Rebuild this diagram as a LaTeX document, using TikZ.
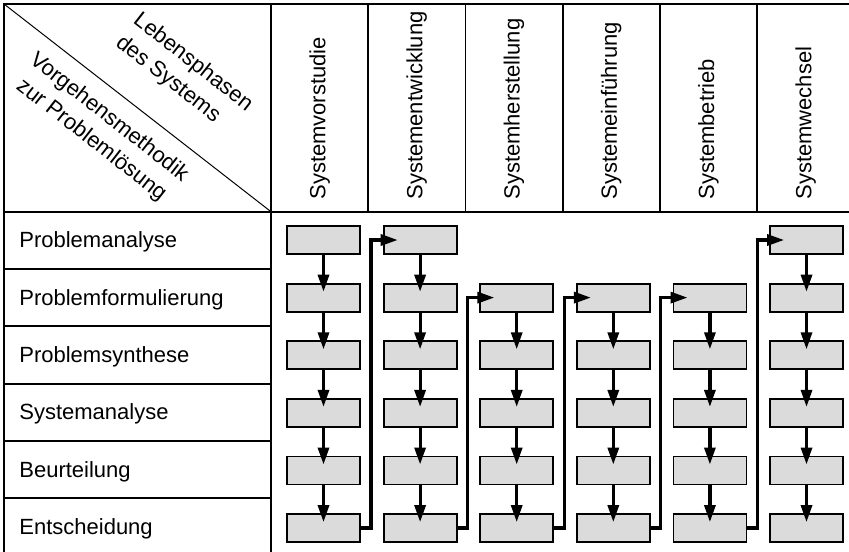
\documentclass[tikz,border=0pt]{standalone}
\usepackage{fontspec}
\setmainfont{Liberation Sans}
\usetikzlibrary{arrows.meta, positioning, calc}

\begin{document}
\begin{tikzpicture}[x=0.5pt, y=-0.5pt, font=\fontsize{11}{14.3}\selectfont,
    grid/.style={line width=0.9pt},
    stepbox/.style={draw, line width=0.9pt, fill=black!14, minimum width=36.5pt,
      minimum height=14pt, inner sep=0pt},
    flow/.style={line width=1.6pt, -{Triangle[length=8.5pt,width=5.5pt]}},
    phase/.style={rotate=90, anchor=west, inner sep=0pt},
    method/.style={anchor=base west, inner sep=0pt}]
  \useasboundingbox (0,0) rectangle (849,551);
  % table frame
  \draw[grid] (4,560) -- (4,4) -- (860,4);
  \draw[grid] (4,211.7) -- (860,211.7);
  \draw[grid] (271,4) -- (271,560);
  \foreach \i in {1,...,5}
    \draw[grid] (271+97.2*\i,4) -- (271+97.2*\i,211.7);
  \foreach \i in {1,...,5}
    \draw[grid] (4,211.7+57.3*\i) -- (271,211.7+57.3*\i);
  \draw[line width=0.5pt] (4,4) -- (271,211.7);
  % corner labels
  \node[rotate=-38, align=left] (lp) at (184,74) {Lebensphasen\\des Systems};
  \node[rotate=-38, align=center] (vm) at (100,129) {Vorgehensmethodik\\zur Problemlösung};
  % life phases
  \foreach \name [count=\i from 0] in {Systemvorstudie, Systementwicklung,
      Systemherstellung, Systemeinführung, Systembetrieb, Systemwechsel}
    \node[phase] (ph\i) at (319.6+97.2*\i,200) {\name};
  % problem solving steps
  \foreach \name [count=\j from 1] in {Problemanalyse, Problemformulierung,
      Problemsynthese, Systemanalyse, Beurteilung, Entscheidung}
    \node[method] (st\j) at (19,190.5+57.3*\j) {\name};
  % boxes and arrows
  \foreach \c/\first in {0/1, 1/1, 2/2, 3/2, 4/2, 5/1} {
    \foreach \r in {\first,...,6}
      \node[stepbox] (b\c-\r) at (323.5+96.6*\c,240+57.6*\r-57.6) {};
    \foreach \r in {\first,...,5} {
      \pgfmathtruncatemacro\nx{\r+1}
      \draw[flow] (b\c-\r.south) -- ([yshift=-4.5pt]b\c-\nx.north);
    }
  }
  \foreach \c/\nc/\top in {0/1/1, 1/2/2, 2/3/2, 3/4/2, 4/5/1}
    \draw[flow] (b\c-6.east) -- ++(5pt,0) |- ([xshift=7.5pt]b\nc-\top.west);
\end{tikzpicture}
\end{document}
